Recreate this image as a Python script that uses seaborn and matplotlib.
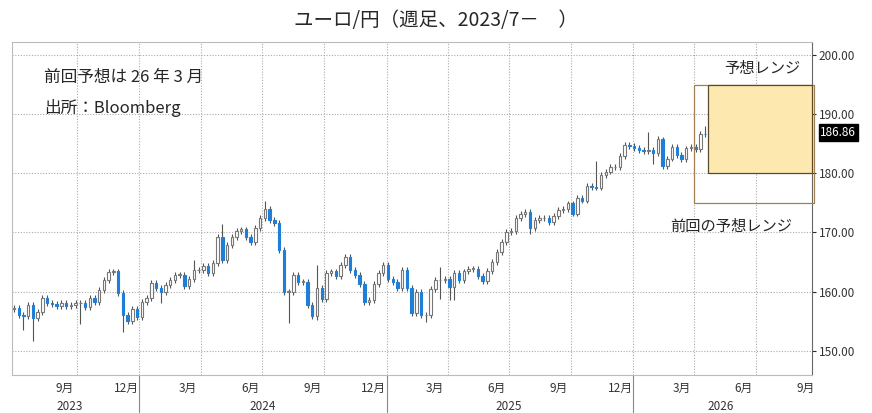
import numpy as np
import pandas as pd
import matplotlib
matplotlib.use("Agg")
import matplotlib.pyplot as plt
import matplotlib.dates as mdates
from matplotlib.patches import Rectangle
import seaborn as sns

sns.set_style("white")
plt.rcParams['font.family'] = ['Noto Sans CJK JP', 'DejaVu Sans']

# weekly closes (EUR/JPY), from 2023-06-30
closes = [157.2,156.1,155.9,157.7,155.5,156.5,158.9,158.0,157.9,157.6,158.1,157.5,157.8,158.0,158.0,157.4,158.9,158.3,160.3,162.0,
          163.3,163.4,159.7,156.1,155.0,157.0,155.7,158.3,158.9,161.5,160.6,160.0,161.1,161.9,162.8,162.8,160.9,162.2,163.6,163.6,
          164.3,163.1,164.9,169.3,165.4,167.9,169.3,170.3,170.5,169.3,168.4,170.8,172.4,174.0,
          172.1,171.6,167.0,160.0,160.0,162.8,161.7,161.7,157.8,155.9,160.6,158.7,163.2,163.4,162.6,164.5,165.8,163.6,162.8,161.3,
          158.3,158.6,161.3,163.2,164.5,162.1,161.7,160.6,163.7,160.6,156.4,160.0,156.0,156.0,160.4,161.9,162.0,162.1,160.8,163.1,
          162.0,163.4,163.8,163.8,162.6,161.8,163.5,
          165.0,166.7,168.4,170.0,170.2,172.4,173.1,173.5,170.7,172.1,172.4,172.4,171.8,172.8,173.8,173.9,174.9,173.2,175.8,175.4,
          177.9,177.7,177.6,179.7,180.3,181.0,181.0,182.9,184.8,184.6,184.3,183.9,183.7,184.0,183.4,185.8,181.2,182.5,184.4,183.1,
          182.4,184.2,184.5,184.1,186.7,186.6,186.86]
first_open = 157.0
default_wick = 0.5
# notable highs / lows by week index
big_highs = {38: 165.3, 44: 171.5, 53: 175.4, 64: 164.5, 90: 164.1, 123: 182.0, 134: 187.0, 137: 186.2, 146: 188.0}
big_lows = {2: 153.5, 4: 151.6, 14: 154.5, 23: 153.2, 31: 158.0, 58: 154.7, 64: 155.2, 87: 154.9, 90: 158.7,
            92: 158.6, 93: 158.5, 109: 169.8, 135: 181.5}

yticks = [150, 160, 170, 180, 190, 200]
forecast_range = (180.0, 195.0)
prev_range = (175.0, 195.0)
last_value = 186.86

dates = pd.date_range("2023-06-30", periods=len(closes), freq="7D")
opens = [first_open] + closes[:-1]
highs = [big_highs.get(i, max(o, c) + default_wick) for i, (o, c) in enumerate(zip(opens, closes))]
lows = [big_lows.get(i, min(o, c) - default_wick) for i, (o, c) in enumerate(zip(opens, closes))]
df = pd.DataFrame({"date": dates, "open": opens, "close": closes, "high": highs, "low": lows})
df["up"] = df["close"] >= df["open"]

fig = plt.figure(figsize=(8.72, 4.13), dpi=100)
ax = fig.add_axes([12/872, 38/413, 800/872, 333/413])

x = mdates.date2num(df["date"])
w = 3.6
ax.vlines(x, df["low"], df["high"], color="#555555", lw=0.8, zorder=2)
for xi, r in zip(x, df.itertuples()):
    lo, hi = min(r.open, r.close), max(r.open, r.close)
    h = max(hi - lo, 0.12)
    if r.up:
        ax.add_patch(Rectangle((xi - w/2, lo), w, h, facecolor="white", edgecolor="#777777", lw=0.8, zorder=3))
    else:
        ax.add_patch(Rectangle((xi - w/2, lo), w, h, facecolor="#1f7fd8", edgecolor="#1f7fd8", lw=0.8, zorder=3))

# forecast boxes
d0 = mdates.date2num(pd.Timestamp("2026-04-21"))
dp = mdates.date2num(pd.Timestamp("2026-04-01"))
d1 = mdates.date2num(pd.Timestamp("2026-09-22"))
ax.add_patch(Rectangle((dp, prev_range[0]), d1 + 3 - dp, prev_range[1] - prev_range[0],
                       facecolor="none", edgecolor="#a08050", lw=0.9, zorder=4, clip_on=False))
ax.add_patch(Rectangle((d0, forecast_range[0]), d1 - d0, forecast_range[1] - forecast_range[0],
                       facecolor="#fde9b0", edgecolor="#5a4a2a", lw=0.9, zorder=5, clip_on=False))

ax.set_xlim(mdates.date2num(pd.Timestamp("2023-06-27")), d1)
ax.set_ylim(145.9, 202.2)

# y axis on right
ax.yaxis.tick_right()
ax.set_yticks(yticks)
ax.set_yticklabels([f"{v:.2f}" for v in yticks], fontsize=8.5, color="#333333")
ax.tick_params(axis="y", length=3, pad=2)
for v in yticks:
    ax.axhline(v, color="#aaaaaa", lw=0.8, ls=(0, (1, 1.5)), zorder=1)

# x axis: gridlines at quarter boundaries, month labels mid-month
grid_dates = pd.date_range("2023-10-01", "2026-07-01", freq="3MS")
for g in grid_dates:
    ax.axvline(mdates.date2num(g), color="#aaaaaa", lw=0.8, ls=(0, (1, 1.5)), zorder=1)
lab_dates = pd.date_range("2023-09-01", "2026-09-01", freq="3MS") + pd.Timedelta(days=12)
ax.set_xticks(mdates.date2num(grid_dates))
ax.set_xticklabels([])
ax.tick_params(axis="x", length=3)
for ld in lab_dates:
    ax.text(mdates.date2num(ld), 145.9 - 1.2, f"{ld.month}月", ha="center", va="top", fontsize=8.5, color="#333333")
years = {"2023": "2023-09-20", "2024": "2024-07-01", "2025": "2025-07-01", "2026": "2026-05-10"}
for y, dstr in years.items():
    ax.text(mdates.date2num(pd.Timestamp(dstr)), 145.9 - 4.3, y, ha="center", va="top", fontsize=8.5, color="#333333")
for yb in ["2024-01-01", "2025-01-01", "2026-01-01"]:
    ax.plot([mdates.date2num(pd.Timestamp(yb))] * 2, [145.9, 145.9 - 6.5], color="#888888", lw=0.8, clip_on=False)

for s in ["left", "top", "bottom"]:
    ax.spines[s].set_color("#bbbbbb")
    ax.spines[s].set_linewidth(0.8)
ax.spines["right"].set_color("#666666")

# last value label
ax.annotate(f"{last_value:.2f}", xy=(1.0, last_value), xycoords=("axes fraction", "data"),
            xytext=(6, 0), textcoords="offset points", ha="left", va="center", fontsize=8.5, color="white",
            bbox=dict(boxstyle="square,pad=0.15", fc="black", ec="black"))

fig.text(0.5, 0.975, "ユーロ/円（週足、2023/7－　）", ha="center", va="top", fontsize=14)
ax.text(0.04, 0.92, "前回予想は 26 年 3 月", transform=ax.transAxes, fontsize=12, va="top")
ax.text(0.04, 0.83, "出所：Bloomberg", transform=ax.transAxes, fontsize=12, va="top")
ax.text(mdates.date2num(pd.Timestamp("2026-07-10")), 196.3, "予想レンジ", ha="center", va="bottom", fontsize=11)
ax.text(mdates.date2num(pd.Timestamp("2026-05-25")), 172.5, "前回の予想レンジ", ha="center", va="top", fontsize=11)

fig.savefig("out.png", dpi=100)
